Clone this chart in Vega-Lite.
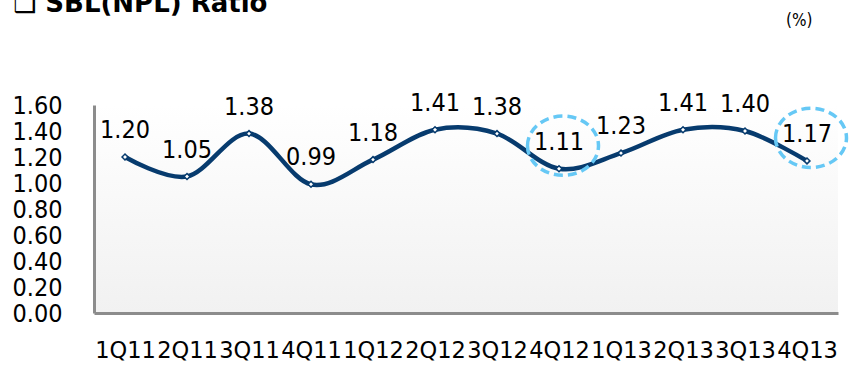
{
  "$schema": "https://vega.github.io/schema/vega-lite/v6.json",
  "width": 744,
  "height": 208,
  "autosize": {"type": "none"},
  "padding": {"left": 94, "top": 105, "right": 14, "bottom": 52},
  "background": "white",
  "title": {
    "text": "❑ SBL(NPL) Ratio",
    "anchor": "start",
    "frame": "group",
    "dx": -81,
    "dy": 27,
    "offset": 0,
    "fontSize": 26,
    "font": "DejaVu Sans",
    "fontWeight": "bold",
    "color": "black",
    "baseline": "alphabetic"
  },
  "data": {
    "values": [
      {"q": "1Q11", "v": 1.20, "hl": false},
      {"q": "2Q11", "v": 1.05, "hl": false},
      {"q": "3Q11", "v": 1.38, "hl": false},
      {"q": "4Q11", "v": 0.99, "hl": false},
      {"q": "1Q12", "v": 1.18, "hl": false},
      {"q": "2Q12", "v": 1.41, "hl": false},
      {"q": "3Q12", "v": 1.38, "hl": false},
      {"q": "4Q12", "v": 1.11, "hl": true},
      {"q": "1Q13", "v": 1.23, "hl": false},
      {"q": "2Q13", "v": 1.41, "hl": false},
      {"q": "3Q13", "v": 1.40, "hl": false},
      {"q": "4Q13", "v": 1.17, "hl": true}
    ]
  },
  "encoding": {
    "x": {
      "field": "q",
      "type": "ordinal",
      "sort": null,
      "scale": {"paddingInner": 0, "paddingOuter": 0},
      "axis": {
        "title": null,
        "labelAngle": 0,
        "labelPadding": 26,
        "ticks": false,
        "domainColor": "#8c8c8c",
        "domainWidth": 3,
        "labelFont": "DejaVu Sans",
        "labelFontSize": 22.5,
        "labelOverlap": false,
        "labelColor": "black"
      }
    },
    "y": {
      "field": "v",
      "type": "quantitative",
      "scale": {"domain": [0, 1.6], "nice": false, "zero": true},
      "axis": {
        "values": [0, 0.2, 0.4, 0.6, 0.8, 1.0, 1.2, 1.4, 1.6],
        "format": ".2f",
        "grid": false,
        "ticks": false,
        "labelPadding": 32,
        "labelFontSize": 25,
        "labelColor": "black",
        "domainColor": "#8c8c8c",
        "domainWidth": 3,
        "title": "(%)",
        "titleAngle": 0,
        "titleX": 718,
        "titleY": -85,
        "titleAlign": "right",
        "titleBaseline": "middle",
        "titleFontSize": 17,
        "titleFontWeight": "normal",
        "titleColor": "black"
      }
    }
  },
  "layer": [
    {
      "mark": {"type": "line", "interpolate": "cardinal", "color": "#073b6e", "strokeWidth": 4.5}
    },
    {
      "mark": {"type": "point", "shape": "diamond", "filled": true, "fill": "white", "stroke": "#073b6e", "strokeWidth": 1.5, "size": 35, "opacity": 1}
    },
    {
      "mark": {"type": "text", "dy": -27, "fontSize": 25, "color": "black"},
      "encoding": {"text": {"field": "v", "type": "quantitative", "format": ".2f"}}
    },
    {
      "transform": [{"filter": "datum.hl"}],
      "mark": {
        "type": "point",
        "shape": "M-1.2,0A1.2,1 0 1,0 1.2,0A1.2,1 0 1,0 -1.2,0Z",
        "filled": false,
        "stroke": "#66c8f5",
        "strokeWidth": 3.5,
        "strokeDash": [9, 5],
        "size": 3500,
        "opacity": 1,
        "xOffset": 4,
        "yOffset": -23
      }
    }
  ],
  "config": {
    "font": "DejaVu Sans Condensed",
    "axis": {"labelFont": "DejaVu Sans Condensed", "titleFont": "DejaVu Sans Condensed"},
    "text": {"font": "DejaVu Sans Condensed"},
    "view": {
      "stroke": null,
      "fill": {
        "gradient": "linear",
        "x1": 0, "y1": 0, "x2": 0, "y2": 1,
        "stops": [{"offset": 0, "color": "#ffffff"}, {"offset": 1, "color": "#f1f1f1"}]
      }
    }
  }
}
